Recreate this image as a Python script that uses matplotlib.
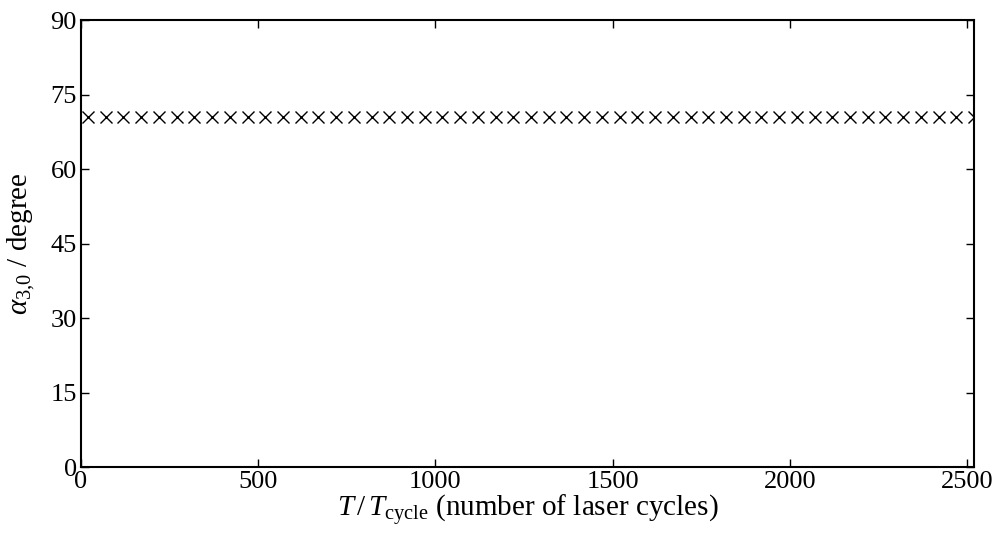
import numpy as np
from matplotlib import pyplot as plt

# crystal angle measured every 50 laser cycles
cycles = np.arange(20, 2521, 50)
alpha = [70.53] * len(cycles)

ytick_values = [0, 15, 30, 45, 60, 75, 90]
xtick_values = [0, 500, 1000, 1500, 2000, 2500]

plt.rcParams['font.family'] = ['Liberation Serif', 'DejaVu Serif']
plt.rcParams['mathtext.fontset'] = 'custom'
plt.rcParams['mathtext.rm'] = 'Liberation Serif'
plt.rcParams['mathtext.it'] = 'Liberation Serif:italic'
plt.rcParams['font.size'] = 19

fig = plt.figure(figsize=(9.97, 5.35), dpi=100)
ax = fig.add_axes([0.0812, 0.1271, 0.8958, 0.8355])

ax.plot(cycles, alpha, 'x', color='black', markersize=9, markeredgewidth=1.0)

ax.set_xlim(0, 2520)
ax.set_ylim(0, 90)
ax.set_xticks(xtick_values)
ax.set_yticks(ytick_values)
ax.tick_params(direction='in', length=6, width=1, top=True, right=True, pad=3,
               labelsize=19)
for s in ax.spines.values():
    s.set_linewidth(1.5)

ax.set_xlabel(r'$T\,/\,T_{\mathrm{cycle}}$ (number of laser cycles)', fontsize=21, labelpad=0)
ax.set_ylabel(r'$\alpha_{3{,}0}$ / degree', fontsize=21, labelpad=10)

fig.savefig('out.png', dpi=100)
